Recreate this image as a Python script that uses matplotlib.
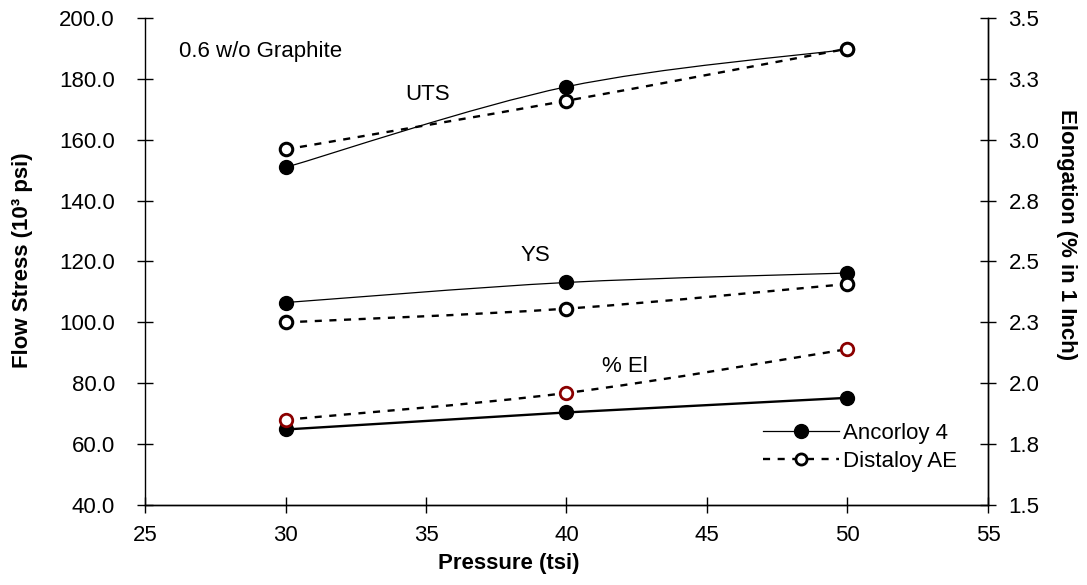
import matplotlib
matplotlib.use('Agg')
import matplotlib.pyplot as plt
import numpy as np
from matplotlib.path import Path
from matplotlib.patches import PathPatch
from matplotlib.lines import Line2D

plt.rcParams['font.family'] = ['Liberation Sans', 'DejaVu Sans']

pressure = [30, 40, 50]
uts_ancorloy = [150.9, 177.4, 189.7]
uts_distaloy = [156.8, 172.8, 189.9]
ys_ancorloy = [106.5, 113.1, 116.2]
ys_distaloy = [100.0, 104.5, 112.6]
el_ancorloy = [1.81, 1.88, 1.94]
el_distaloy = [1.85, 1.96, 2.14]

left_ticks = [40, 60, 80, 100, 120, 140, 160, 180, 200]
right_ticks = [1.5, 1.75, 2.0, 2.25, 2.5, 2.75, 3.0, 3.25, 3.5]
right_labels = ['1.5', '1.8', '2.0', '2.3', '2.5', '2.8', '3.0', '3.3', '3.5']

FS = 16


def smooth_line(ax, x, y, **kw):
    # Excel-like smoothed line: cubic Bezier through the points
    pts = np.column_stack([x, y]).astype(float)
    n = len(pts)
    verts = [pts[0]]
    codes = [Path.MOVETO]
    for i in range(n - 1):
        p0 = pts[i - 1] if i > 0 else pts[i]
        p1 = pts[i]
        p2 = pts[i + 1]
        p3 = pts[i + 2] if i + 2 < n else pts[i + 1]
        verts += [p1 + (p2 - p0) / 6, p2 - (p3 - p1) / 6, p2]
        codes += [Path.CURVE4] * 3
    ax.add_patch(PathPatch(Path(verts, codes), fill=False, **kw))


fig = plt.figure(figsize=(10.87, 5.85), dpi=100)
ax = fig.add_axes([0.1334, 0.1368, 0.7755, 0.8325])
ax2 = ax.twinx()

dash = (0, (3, 3.2))
smooth_line(ax, pressure, uts_ancorloy, color='black', lw=0.9, zorder=2)
smooth_line(ax, pressure, uts_distaloy, color='black', lw=1.7, linestyle=dash, zorder=2)
smooth_line(ax, pressure, ys_ancorloy, color='black', lw=0.9, zorder=2)
smooth_line(ax, pressure, ys_distaloy, color='black', lw=1.7, linestyle=dash, zorder=2)
ax.plot(pressure, uts_ancorloy, 'o', color='black', ms=10, zorder=3)
ax.plot(pressure, uts_distaloy, 'o', mfc='white', mec='black', mew=2.2, ms=9, zorder=4)
ax.plot(pressure, ys_ancorloy, 'o', color='black', ms=10, zorder=3)
ax.plot(pressure, ys_distaloy, 'o', mfc='white', mec='black', mew=2.2, ms=9, zorder=4)

ax2.plot(pressure, el_ancorloy, '-o', color='black', lw=1.7, ms=10, zorder=3)
smooth_line(ax2, pressure, el_distaloy, color='black', lw=1.7, linestyle=dash, zorder=2)
ax2.plot(pressure, el_distaloy, 'o', mfc='white', mec='#8b0000', mew=2.0, ms=9, zorder=4)

ax.set_xlim(25, 55)
ax.set_ylim(40, 200)
ax2.set_ylim(1.5, 3.5)
ax.set_xticks([25, 30, 35, 40, 45, 50, 55])
ax.set_yticks(left_ticks)
ax.set_yticklabels(['%.1f' % v for v in left_ticks])
ax2.set_yticks(right_ticks)
ax2.set_yticklabels(right_labels)

for a in (ax, ax2):
    a.spines['top'].set_visible(False)
    for s in a.spines.values():
        s.set_linewidth(1.0)
    a.tick_params(direction='inout', length=11.5, width=1.0, labelsize=FS)
ax2.spines['left'].set_visible(False)
ax.tick_params(axis='y', pad=16)
ax.tick_params(axis='x', pad=9)
ax2.tick_params(axis='y', pad=9)

fig.text(509 / 1087, 1 - 563 / 585, 'Pressure (tsi)', fontsize=FS,
         fontweight='bold', ha='center', va='center')
fig.text(23 / 1087, 1 - 260 / 585, 'Flow Stress (10³ psi)', fontsize=FS,
         fontweight='bold', ha='center', va='center', rotation=90)
fig.text(1067 / 1087, 1 - 235 / 585, 'Elongation (% in 1 Inch)', fontsize=FS,
         fontweight='bold', ha='center', va='center', rotation=270)

ax.text(26.2, 188.9, '0.6 w/o Graphite', fontsize=FS, va='center', ha='left')
ax.text(35.07, 174.8, 'UTS', fontsize=FS, va='center', ha='center')
ax.text(38.9, 121.8, 'YS', fontsize=FS, va='center', ha='center')
ax.text(42.08, 85.5, '% El', fontsize=FS, va='center', ha='center')

handles = [
    Line2D([], [], color='black', lw=0.9, marker='o', ms=10),
    Line2D([], [], color='black', lw=1.7, linestyle=dash, marker='o',
           mfc='white', mec='black', mew=2.0, ms=8),
]
ax.legend(handles, ['Ancorloy 4', 'Distaloy AE'], loc='upper left',
          bbox_to_anchor=(0.715, 0.20), frameon=False, fontsize=FS,
          handlelength=3.4, handletextpad=0.2, labelspacing=0.3,
          borderpad=0.2)

fig.savefig('out.png', dpi=100)
